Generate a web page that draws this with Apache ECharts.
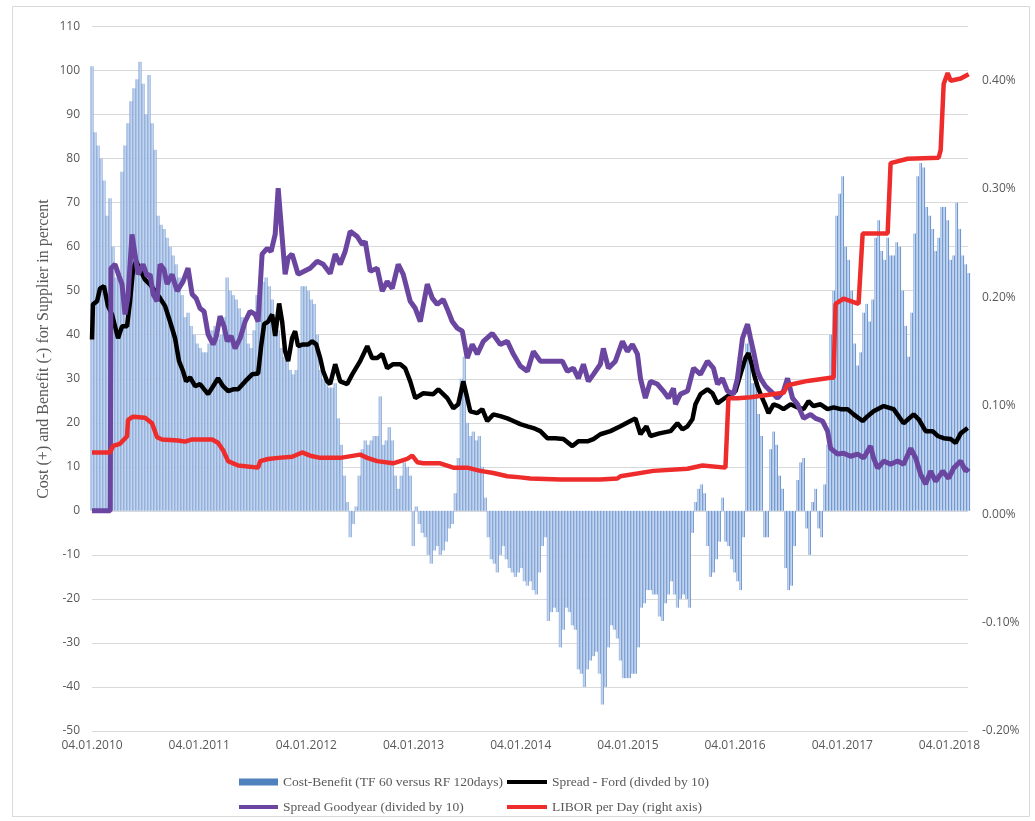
<!DOCTYPE html>
<html>
<head>
<meta charset="utf-8">
<script src="https://cdn.jsdelivr.net/npm/echarts@6/dist/echarts.min.js"></script>
<style>
html,body{margin:0;padding:0;background:#fff;}
#chart{width:1035px;height:821px;}
</style>
</head>
<body>
<div id="chart"></div>
<script>
// ---------- DATA ----------
// x values are fractional years (2010.0 = 04.01.2010)
const xTickYears = [2010, 2011, 2012, 2013, 2014, 2015, 2016, 2017, 2018];
const leftTicks = [-50, 110, 10];         // min, max, step
const rightTicks = [-0.2, 0.45, 0.1];     // min, max, step (percent)

// Cost-Benefit (TF 60 versus RF 120days): regular sampling from 04.01.2010, ~10 days apart
const costBenefitStart = 2010.0;
const costBenefitStep = 0.02801;
const costBenefit = [
 101, 86, 83, 80, 75, 67, 71, 60, 53, 54,
 77, 83, 88, 93, 96, 98, 102, 97, 90, 99,
 88, 82, 67, 65, 64, 62, 60, 58, 56, 53,
 49, 44, 45, 42, 40, 38, 37, 36, 36, 38,
 41, 42, 39, 40, 44, 53, 50, 49, 48, 46,
 44, 42, 38, 37, 41, 49, 51, 52, 53, 51,
 48, 44, 41, 37, 35, 34, 32, 31, 32, 38,
 51, 51, 50, 48, 47, 40, 32, 30, 29, 28,
 28, 29, 21, 15, 8, 2, -6, -3, 1, 8,
 14, 16, 15, 16, 17, 17, 26, 15, 16, 19,
 16, 8, 5, 8, 11, 10, 8, -8, 1, -3,
 -5, -6, -10, -12, -9, -8, -10, -9, -7, -4,
 -3, 4, 12, 30, 35, 20, 17, 18, 16, 17,
 10, 3, -6, -11, -12, -14, -10, -8, -11, -13,
 -14, -15, -14, -13, -16, -17, -16, -18, -19, -14,
 -8, -6, -25, -23, -22, -23, -31, -27, -22, -23,
 -26, -27, -36, -37, -40, -36, -34, -33, -32, -37,
 -44, -40, -31, -26, -27, -29, -34, -38, -38, -38,
 -37, -37, -31, -22, -21, -18, -18, -19, -19, -24,
 -25, -21, -19, -16, -19, -22, -20, -19, -20, -22,
 -5, 2, 5, 6, 4, -8, -15, -14, -11, -7,
 3, -7, -8, -11, -14, -16, -18, -6, 38, 40,
 29, 30, 22, 17, -6, -6, 14, 18, 15, 8,
 5, -13, -18, -17, -8, 7, 11, 12, -4, -10,
 2, 5, -4, -6, 6, 15, 40, 50, 67, 72,
 76, 60, 57, 50, 38, 33, 36, 45, 47, 43,
 48, 62, 66, 59, 57, 62, 58, 58, 61, 60,
 50, 42, 35, 45, 63, 76, 79, 78, 69, 67,
 64, 59, 62, 69, 69, 66, 57, 58, 70, 64,
 58, 56, 54
];

// Spread - Ford (divided by 10): [year, value]
const spreadFord = [
 [2010.000,38.9],[2010.009,46.9],[2010.047,47.6],[2010.075,50.5],[2010.112,51.0],[2010.149,46.5],
 [2010.187,44.6],[2010.243,39.2],[2010.280,41.9],[2010.327,41.9],[2010.355,47.6],[2010.383,54.8],
 [2010.411,56.7],[2010.448,54.8],[2010.495,52.5],[2010.542,51.4],[2010.588,49.9],[2010.635,48.3],
 [2010.682,46.5],[2010.728,43.0],[2010.775,39.2],[2010.812,34.0],[2010.850,31.7],[2010.878,29.4],
 [2010.915,30.3],[2010.962,28.3],[2011.008,28.8],[2011.083,26.5],[2011.130,28.3],[2011.176,30.1],
 [2011.223,28.3],[2011.270,27.2],[2011.317,27.6],[2011.363,27.6],[2011.429,29.4],[2011.494,31.0],
 [2011.550,31.2],[2011.578,37.4],[2011.606,42.4],[2011.643,43.0],[2011.681,44.6],[2011.709,39.7],
 [2011.746,47.1],[2011.774,43.0],[2011.802,36.2],[2011.830,34.0],[2011.867,39.2],[2011.895,40.8],
 [2011.923,37.4],[2011.970,37.8],[2012.017,37.8],[2012.054,38.5],[2012.092,37.8],[2012.129,34.7],
 [2012.157,31.7],[2012.194,29.4],[2012.222,28.8],[2012.269,33.3],[2012.316,29.4],[2012.381,28.8],
 [2012.428,31.0],[2012.502,34.0],[2012.568,37.4],[2012.614,34.7],[2012.661,34.7],[2012.708,35.6],
 [2012.754,32.4],[2012.810,33.3],[2012.876,33.3],[2012.922,32.4],[2012.969,29.4],[2013.016,25.6],
 [2013.091,26.7],[2013.184,26.5],[2013.231,27.6],[2013.315,25.6],[2013.371,23.3],[2013.417,24.2],
 [2013.464,29.4],[2013.501,25.6],[2013.529,22.6],[2013.595,22.2],[2013.641,23.1],[2013.688,20.4],
 [2013.744,21.9],[2013.810,21.5],[2013.875,21.0],[2013.931,20.4],[2013.996,19.7],[2014.062,19.2],
 [2014.118,18.8],[2014.183,18.1],[2014.248,16.5],[2014.323,16.5],[2014.398,16.3],[2014.482,14.7],
 [2014.538,15.8],[2014.622,15.8],[2014.678,16.3],[2014.743,17.4],[2014.837,18.1],[2014.930,19.2],
 [2015.023,20.4],[2015.070,21.0],[2015.117,17.4],[2015.173,19.2],[2015.210,17.0],[2015.294,17.6],
 [2015.397,18.1],[2015.462,19.9],[2015.509,18.5],[2015.556,19.2],[2015.602,20.8],[2015.630,24.2],
 [2015.677,26.5],[2015.742,27.6],[2015.789,26.7],[2015.836,24.4],[2015.892,25.4],[2015.957,26.5],
 [2016.004,27.2],[2016.050,31.0],[2016.097,34.7],[2016.125,35.8],[2016.153,33.5],[2016.181,30.6],
 [2016.209,28.3],[2016.237,26.5],[2016.275,24.4],[2016.312,22.2],[2016.359,24.2],[2016.405,23.8],
 [2016.452,23.1],[2016.517,24.2],[2016.583,23.5],[2016.639,23.1],[2016.685,24.9],[2016.732,23.8],
 [2016.797,24.2],[2016.863,23.1],[2016.919,23.5],[2016.984,23.1],[2017.049,23.1],[2017.106,21.9],
 [2017.190,20.4],[2017.236,21.5],[2017.292,22.6],[2017.386,23.8],[2017.479,23.1],[2017.572,19.9],
 [2017.666,21.9],[2017.713,20.8],[2017.778,18.1],[2017.843,18.1],[2017.890,17.0],[2017.946,16.5],
 [2018.011,16.3],[2018.058,15.4],[2018.105,17.6],[2018.170,18.8]
];

// Spread Goodyear (divided by 10): [year, value]
const spreadGoodyear = [
 [2010.000,0],[2010.170,0],[2010.177,55.1],[2010.215,56.0],[2010.252,53.3],[2010.280,51.5],
 [2010.308,44.6],[2010.336,48.7],[2010.373,62.8],[2010.401,58.3],[2010.430,53.7],[2010.476,56.0],
 [2010.514,53.3],[2010.542,53.7],[2010.570,49.2],[2010.607,47.6],[2010.635,56.0],[2010.672,54.8],
 [2010.700,51.5],[2010.747,53.7],[2010.794,49.9],[2010.850,52.1],[2010.896,55.1],[2010.934,49.2],
 [2010.971,48.3],[2011.008,46.0],[2011.046,45.3],[2011.083,40.1],[2011.130,37.8],[2011.158,39.4],
 [2011.195,44.2],[2011.232,41.9],[2011.261,38.5],[2011.298,39.7],[2011.335,36.9],[2011.382,39.2],
 [2011.429,43.0],[2011.475,45.3],[2011.522,44.6],[2011.550,43.0],[2011.587,58.3],[2011.634,59.6],
 [2011.671,58.9],[2011.709,62.8],[2011.737,73.3],[2011.774,62.1],[2011.802,53.7],[2011.830,57.4],
 [2011.867,58.3],[2011.895,56.0],[2011.923,53.7],[2011.979,54.4],[2012.035,55.1],[2012.101,56.7],
 [2012.157,56.0],[2012.222,53.9],[2012.269,58.3],[2012.316,56.0],[2012.362,58.9],[2012.409,63.5],
 [2012.474,62.3],[2012.521,60.5],[2012.549,61.2],[2012.596,54.4],[2012.661,55.1],[2012.708,49.9],
 [2012.754,52.1],[2012.801,50.5],[2012.857,56.0],[2012.904,53.7],[2012.969,47.6],[2013.016,46.0],
 [2013.063,43.0],[2013.128,51.5],[2013.175,48.3],[2013.221,46.9],[2013.277,48.0],[2013.324,45.3],
 [2013.361,43.0],[2013.408,41.5],[2013.455,40.8],[2013.501,34.7],[2013.548,37.8],[2013.595,35.6],
 [2013.651,38.5],[2013.735,40.3],[2013.810,37.8],[2013.875,38.5],[2013.931,35.6],[2013.996,32.9],
 [2014.062,31.7],[2014.118,36.2],[2014.183,34.0],[2014.248,34.0],[2014.304,34.0],[2014.388,34.0],
 [2014.435,31.7],[2014.491,32.4],[2014.538,30.1],[2014.585,33.3],[2014.631,29.4],[2014.678,31.0],
 [2014.743,33.3],[2014.771,36.9],[2014.818,32.4],[2014.883,34.0],[2014.949,38.5],[2014.995,36.2],
 [2015.042,37.8],[2015.089,35.6],[2015.117,30.1],[2015.163,25.6],[2015.210,29.4],[2015.275,28.8],
 [2015.331,27.2],[2015.378,25.6],[2015.425,27.8],[2015.444,24.2],[2015.490,26.5],[2015.556,27.2],
 [2015.612,32.4],[2015.677,31.0],[2015.742,34.0],[2015.798,32.4],[2015.836,28.8],[2015.882,30.1],
 [2015.929,27.2],[2015.985,26.5],[2016.022,30.1],[2016.069,39.2],[2016.116,42.4],[2016.144,39.2],
 [2016.172,36.2],[2016.209,31.7],[2016.237,30.1],[2016.284,28.3],[2016.331,27.2],[2016.396,25.6],
 [2016.452,27.2],[2016.489,30.1],[2016.536,25.6],[2016.583,24.2],[2016.639,21.0],[2016.704,21.9],
 [2016.751,21.0],[2016.816,20.4],[2016.863,18.1],[2016.891,14.2],[2016.956,12.9],[2017.012,13.1],
 [2017.077,12.4],[2017.143,12.9],[2017.199,12.0],[2017.264,14.7],[2017.292,12.0],[2017.330,9.7],
 [2017.386,11.3],[2017.451,10.6],[2017.516,11.3],[2017.572,10.6],[2017.638,14.2],[2017.685,12.0],
 [2017.731,8.3],[2017.778,6.1],[2017.824,9.0],[2017.871,6.7],[2017.937,9.0],[2017.993,7.4],
 [2018.039,9.7],[2018.105,11.3],[2018.151,9.0],[2018.179,9.7]
];

// LIBOR per Day (right axis, percent): [year, value]
const liborPerDay = [
 [2010.000,0.057],[2010.168,0.057],[2010.196,0.063],[2010.261,0.065],[2010.327,0.072],[2010.336,0.087],
 [2010.383,0.090],[2010.495,0.089],[2010.560,0.084],[2010.607,0.071],[2010.654,0.069],[2010.803,0.068],
 [2010.868,0.067],[2010.934,0.069],[2011.120,0.069],[2011.176,0.066],[2011.223,0.059],[2011.270,0.049],
 [2011.363,0.045],[2011.550,0.043],[2011.569,0.049],[2011.643,0.051],[2011.737,0.052],[2011.867,0.053],
 [2011.961,0.057],[2012.035,0.054],[2012.129,0.052],[2012.316,0.052],[2012.502,0.055],[2012.568,0.052],
 [2012.661,0.049],[2012.810,0.047],[2012.941,0.051],[2012.988,0.054],[2013.035,0.048],[2013.091,0.047],
 [2013.249,0.047],[2013.371,0.043],[2013.501,0.043],[2013.623,0.040],[2013.744,0.038],[2013.875,0.035],
 [2013.996,0.034],[2014.090,0.033],[2014.370,0.032],[2014.743,0.032],[2014.902,0.033],[2014.930,0.035],
 [2015.238,0.040],[2015.556,0.042],[2015.696,0.045],[2015.910,0.043],[2015.938,0.107],[2016.022,0.107],
 [2016.144,0.108],[2016.452,0.112],[2016.489,0.119],[2016.676,0.123],[2016.891,0.126],[2016.919,0.126],
 [2016.937,0.194],[2017.012,0.199],[2017.152,0.194],[2017.190,0.259],[2017.236,0.259],[2017.423,0.259],
 [2017.451,0.324],[2017.610,0.328],[2017.899,0.329],[2017.918,0.336],[2017.946,0.397],[2017.983,0.407],
 [2018.011,0.400],[2018.105,0.402],[2018.179,0.406]
];

const seriesNames = [
 'Cost-Benefit (TF 60 versus RF 120days)',
 'Spread - Ford (divded by 10)',
 'Spread Goodyear (divided by 10)',
 'LIBOR per Day (right axis)'
];
const yAxisTitle = 'Cost (+) and Benefit (-) for Supplier in percent';
const xEndYear = 2018.173;

// ---------- CHART ----------
const barData = costBenefit.map((v, i) => [costBenefitStart + i * costBenefitStep, v]);

// thin vertical stripe texture for the dense daily bars
const stripe = document.createElement('canvas');
stripe.width = 3; stripe.height = 4;
(function () {
  const g = stripe.getContext('2d');
  const cols = ['#7199d2', '#adc4e6', '#c2d4ed'];
  cols.forEach((c, i) => { g.fillStyle = c; g.fillRect(i, 0, 1, 4); });
})();

const chart = echarts.init(document.getElementById('chart'), null, {renderer: 'canvas'});
const axisFont = {color: '#595959', fontFamily: 'Open Sans', fontSize: 12};
const legendText = {color: '#595959', fontFamily: 'Liberation Serif', fontSize: 13.5};
const lineIcon = 'path://M0 0H40V4H0Z';
const C = {bar: '#4f81bd', ford: '#000000', gy: '#6a46a0', libor: '#ee2c2c'};

chart.setOption({
  animation: false,
  backgroundColor: '#ffffff',
  grid: {left: 92, right: 67, top: 26.5, bottom: 90, containLabel: false},
  xAxis: {
    type: 'value', min: xTickYears[0], max: xEndYear, interval: 1,
    axisLine: {show: false}, axisTick: {show: false}, splitLine: {show: false},
    axisLabel: Object.assign({}, axisFont, {
      margin: 9, showMaxLabel: true,
      formatter: v => (xTickYears.indexOf(Math.round(v)) >= 0 && Math.abs(v - Math.round(v)) < 1e-6) ? '04.01.' + Math.round(v) : ''
    })
  },
  yAxis: [
    {
      type: 'value', min: leftTicks[0], max: leftTicks[1], interval: leftTicks[2],
      axisLine: {show: false}, axisTick: {show: false},
      splitLine: {lineStyle: {color: '#d9d9d9', width: 1}},
      axisLabel: Object.assign({}, axisFont, {margin: 12})
    },
    {
      type: 'value', min: rightTicks[0], max: rightTicks[1], interval: rightTicks[2],
      axisLine: {show: false}, axisTick: {show: false}, splitLine: {show: false},
      axisLabel: Object.assign({}, axisFont, {
        margin: 14,
        formatter: v => (Math.abs(v - rightTicks[1]) < 1e-6) ? '' : v.toFixed(2) + '%'
      })
    }
  ],
  legend: [
    {
      orient: 'vertical', left: 239, top: 775, padding: 0, itemWidth: 39, itemHeight: 7, itemGap: 11,
      textStyle: legendText,
      data: [
        {name: seriesNames[0], icon: 'rect', itemStyle: {color: C.bar, opacity: 1}},
        {name: seriesNames[2], icon: lineIcon, itemStyle: {color: C.gy}}
      ]
    },
    {
      orient: 'vertical', left: 507, top: 775, padding: 0, itemWidth: 40, itemHeight: 7, itemGap: 11,
      textStyle: legendText,
      data: [
        {name: seriesNames[1], icon: lineIcon, itemStyle: {color: C.ford}},
        {name: seriesNames[3], icon: lineIcon, itemStyle: {color: C.libor}}
      ]
    }
  ],
  graphic: [
    {type: 'rect', shape: {x: 12.5, y: 6.5, width: 1017, height: 810}, style: {fill: 'none', stroke: '#d9d9d9', lineWidth: 1}, silent: true, z: -1},
    {type: 'text', x: 44, y: 349, rotation: Math.PI / 2,
     style: {text: yAxisTitle, fill: '#595959', font: '16px "Liberation Serif"', textAlign: 'center', textVerticalAlign: 'middle'}}
  ],
  series: [
    {
      name: seriesNames[0], type: 'bar', data: barData, barWidth: 3,
      itemStyle: {color: {image: stripe, repeat: 'repeat'}}, z: 1
    },
    {
      name: seriesNames[1], type: 'line', data: spreadFord, showSymbol: false, symbol: 'none',
      lineStyle: {color: C.ford, width: 4.5}, itemStyle: {color: C.ford}, z: 3
    },
    {
      name: seriesNames[2], type: 'line', data: spreadGoodyear, showSymbol: false, symbol: 'none',
      lineStyle: {color: C.gy, width: 5}, itemStyle: {color: C.gy}, z: 4
    },
    {
      name: seriesNames[3], type: 'line', yAxisIndex: 1, data: liborPerDay, showSymbol: false, symbol: 'none',
      lineStyle: {color: C.libor, width: 4.5}, itemStyle: {color: C.libor}, z: 5
    }
  ]
});
</script>
</body>
</html>
